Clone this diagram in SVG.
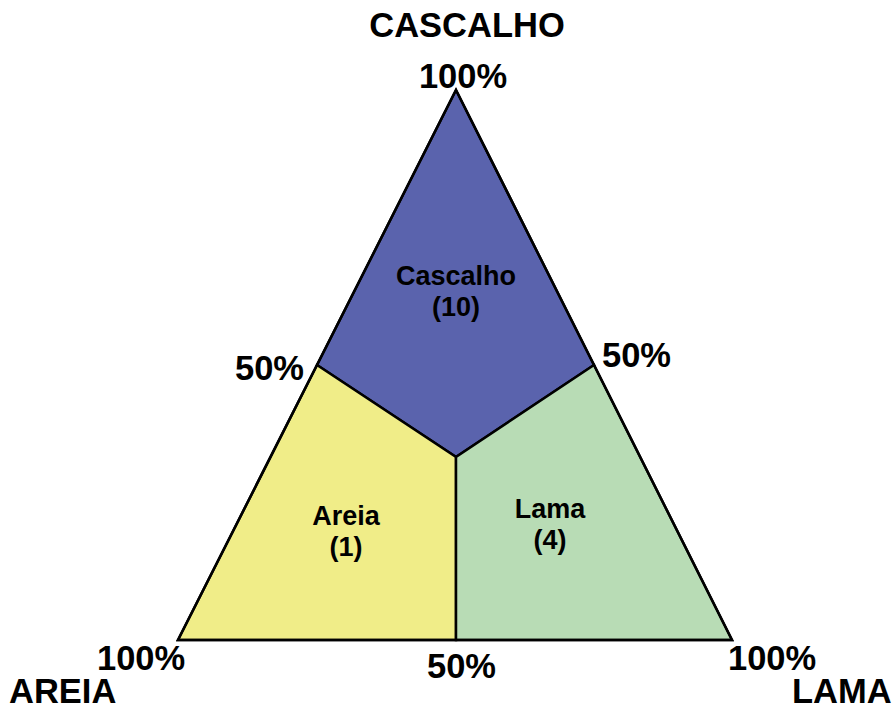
<svg xmlns="http://www.w3.org/2000/svg" width="894" height="711" viewBox="0 0 894 711">
<style>
.big{font-family:"Liberation Sans",Arial,sans-serif;font-weight:bold;font-size:34.5px;fill:#000}
.lbl{font-family:"Liberation Sans",Arial,sans-serif;font-weight:bold;font-size:27px;fill:#000;text-anchor:middle}
.reg{stroke:#000;stroke-width:2.5;stroke-linejoin:miter}
</style>
<rect width="894" height="711" fill="#fff"/>
<g id="cascalho">
<polygon class="reg" fill="#5a63ad" points="456,90 594,365 456,457 317,365"/>
<text class="lbl" x="456" y="285">Cascalho</text>
<text class="lbl" x="456" y="316">(10)</text>
</g>
<g id="areia">
<polygon class="reg" fill="#f0ed88" points="317,365 456,457 456,640 178,640"/>
<text class="lbl" x="346" y="525">Areia</text>
<text class="lbl" x="346" y="556">(1)</text>
</g>
<g id="lama">
<polygon class="reg" fill="#b8dcb5" points="594,365 732,640 456,640 456,457"/>
<text class="lbl" x="550" y="518">Lama</text>
<text class="lbl" x="550" y="549">(4)</text>
</g>
<g id="connectors">
<polygon points="456,90 732,640 178,640" fill="none" stroke="#000" stroke-width="2.5"/>
</g>
<g id="labels">
<text class="big" x="467" y="37" text-anchor="middle">CASCALHO</text>
<text class="big" x="463" y="88" text-anchor="middle">100%</text>
<text class="big" x="235" y="380">50%</text>
<text class="big" x="602" y="367">50%</text>
<text class="big" x="97" y="670">100%</text>
<text class="big" x="427" y="678">50%</text>
<text class="big" x="728" y="670">100%</text>
<text class="big" x="9" y="703">AREIA</text>
<text class="big" x="792" y="703">LAMA</text>
</g>
</svg>
